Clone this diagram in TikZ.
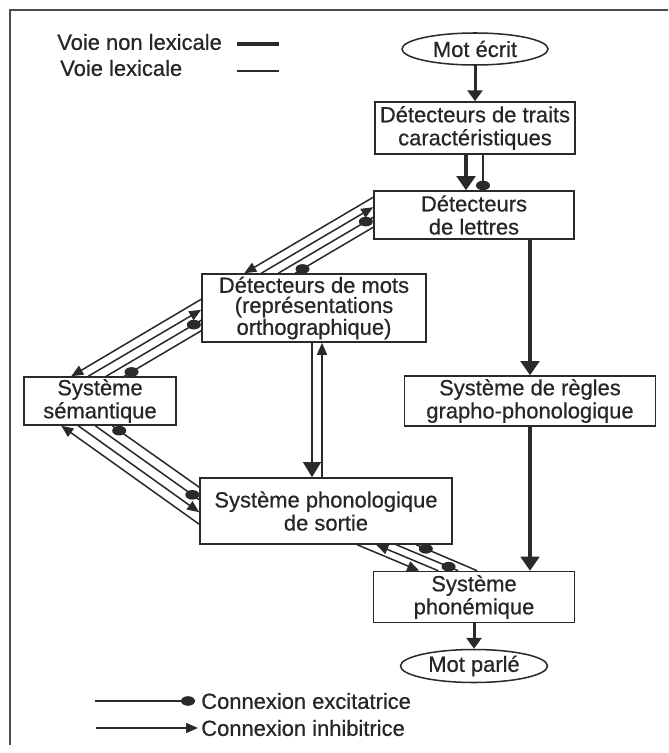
\documentclass[tikz,border=0pt]{standalone}
\usepackage{fontspec}
\setmainfont{Liberation Sans}
\newfontfamily\scanfont[FakeBold=0.6]{Liberation Sans}
\usepackage{xcolor}
\usepackage{tikz}
\usetikzlibrary{arrows.meta, calc, shapes.geometric, decorations.markings}
\definecolor{ink}{HTML}{2A2A2A}

\begin{document}
\begin{tikzpicture}[x=0.25mm, y=-0.25mm,
  txt/.style={text=black!85, font=\scanfont\fontsize{15.6}{16.4}\selectfont},
  box/.style={txt, draw=ink, line width=0.38mm, align=center, inner sep=0pt},
  oval/.style={txt, ellipse, draw=ink, line width=0.38mm, inner sep=0pt},
  thinline/.style={draw=ink, line width=0.38mm},
  inh/.style={thinline, -{Triangle[length=3mm, width=2.5mm]}},
  exc/.style={thinline, postaction={decorate, decoration={markings,
      mark=at position -#1 with {\pgftransformresetnontranslations
        \fill[ink] (0,0) ellipse (1.75mm and 1.2mm);}}}},
  exc/.default=2.1mm,
  heavy/.style={draw=ink, line width=1.15mm, -{Triangle[length=3.5mm, width=4.6mm]}},
  medium/.style={draw=ink, line width=0.75mm, -{Triangle[length=2.7mm, width=3.7mm]}},
  lexdown/.style={draw=ink, line width=0.7mm, -{Triangle[length=3.8mm, width=4.4mm]}}
]
  \useasboundingbox (0,0) rectangle (668,753);
  \draw[draw=black!70, line width=0.5mm] (10,745) -- (10,10) -- (668,10);

  % legende voies
  \node[txt, anchor=west, inner sep=0pt] (nonlex) at (57,42) {Voie non lexicale};
  \node[txt, anchor=west, inner sep=0pt] (lex) at (60,68) {Voie lexicale};
  \coordinate (nlA) at (237,44);
  \coordinate (nlB) at (279,44);
  \coordinate (lxA) at (237,71);
  \coordinate (lxB) at (279,71);
  \draw[draw=ink, line width=1.15mm] (nlA) -- (nlB);
  \draw[thinline] (lxA) -- (lxB);

  \node[oval, minimum width=36.5mm, minimum height=8mm] (ecrit) at (475,49) {Mot écrit};
  \node[box, minimum width=50mm, minimum height=13mm] (traits) at (475,128) {Détecteurs de traits\\caractéristiques};
  \node[box, minimum width=50mm, minimum height=12mm] (lettres) at (474,215) {Détecteurs\\de lettres};
  \node[box, minimum width=56mm, minimum height=17mm, font=\scanfont\fontsize{15.6}{14.3}\selectfont] (mots) at (314,308) {Détecteurs de mots\\(représentations\\orthographique)};
  \node[box, minimum width=38mm, minimum height=12mm] (sem) at (100,401) {Système\\sémantique};
  \node[box, minimum width=62.75mm, minimum height=12.5mm] (regles) at (530,401) {Système de règles\\grapho-phonologique};
  \node[box, minimum width=63mm, minimum height=16.5mm] (phono) at (326,511) {Système phonologique\\de sortie};
  \node[box, minimum width=50.25mm, minimum height=12.75mm] (phonem) at (474,597) {Système\\phonémique};
  \node[oval, minimum width=36.75mm, minimum height=8.25mm] (parle) at (474,666) {Mot parlé};

  \draw[medium] (ecrit) -- (traits);
  \coordinate (tA) at ($(traits.south)+(-9,0)$);
  \coordinate (tB) at ($(traits.south)+(8,0)$);
  \draw[heavy] (tA) -- (tA |- lettres.north);
  \draw[exc=1.2mm] (tB) -- (tB |- lettres.north);
  \draw[heavy] (regles.north |- lettres.south) -- (regles.north);
  \draw[heavy] (regles.south) -- (regles.south |- phonem.north);
  \draw[medium] (phonem) -- (parle);

  \coordinate (mA) at ($(mots.south)+(-2,0)$);
  \coordinate (mB) at ($(mots.south)+(8,0)$);
  \draw[lexdown] (mA) -- (mA |- phono.north);
  \draw[inh] (mB |- phono.north) -- (mB);

  % lettres <-> mots
  \draw[inh] ($(lettres.north west)+(0,7)$) -- ($(mots.north west)+(43,0)$);
  \draw[inh] ($(mots.north west)+(60,0)$) -- ($(lettres.north west)+(0,17)$);
  \draw[exc] ($(mots.north west)+(77,0)$) -- ($(lettres.north west)+(0,27)$);
  \draw[exc] ($(lettres.north west)+(0,37)$) -- ($(mots.north west)+(94,0)$);

  % mots <-> sem
  \draw[inh] ($(mots.north west)+(0,26)$) -- ($(sem.north west)+(48,0)$);
  \draw[inh] ($(sem.north west)+(65,0)$) -- ($(mots.north west)+(0,36.5)$);
  \draw[exc] ($(sem.north west)+(83,0)$) -- ($(mots.north west)+(0,47)$);
  \draw[exc] ($(mots.north west)+(0,57.5)$) -- ($(sem.north west)+(101,0)$);

  % sem <-> phono
  \draw[inh] ($(phono.north west)+(0,47)$) -- ($(sem.south west)+(38,0)$);
  \draw[inh] ($(sem.south west)+(55,0)$) -- ($(phono.north west)+(0,35)$);
  \draw[exc] ($(sem.south west)+(72,0)$) -- ($(phono.north west)+(0,22.5)$);
  \draw[exc] ($(phono.north west)+(0,10)$) -- ($(sem.south west)+(89,0)$);

  % phono <-> phonem
  \draw[inh] ($(phono.south west)+(158,0)$) -- ($(phonem.north west)+(46.5,0)$);
  \draw[inh] ($(phonem.north west)+(65.5,0)$) -- ($(phono.south west)+(177,0)$);
  \draw[exc=2.6mm] ($(phono.south west)+(197,0)$) -- ($(phonem.north west)+(85.5,0)$);
  \draw[exc=2.6mm] ($(phonem.north west)+(104.5,0)$) -- ($(phono.south west)+(217,0)$);

  % legende connexions
  \node[txt, anchor=west, inner sep=0pt] (excit) at (201,701) {Connexion excitatrice};
  \node[txt, anchor=west, inner sep=0pt] (inhib) at (201,728) {Connexion inhibitrice};
  \coordinate (exStart) at (95,701);
  \coordinate (inStart) at (96,728);
  \draw[exc=1.75mm] (exStart) -- ($(excit.west)+(-6,0)$);
  \draw[inh] (inStart) -- ($(inhib.west)+(-3,0)$);
\end{tikzpicture}
\end{document}
